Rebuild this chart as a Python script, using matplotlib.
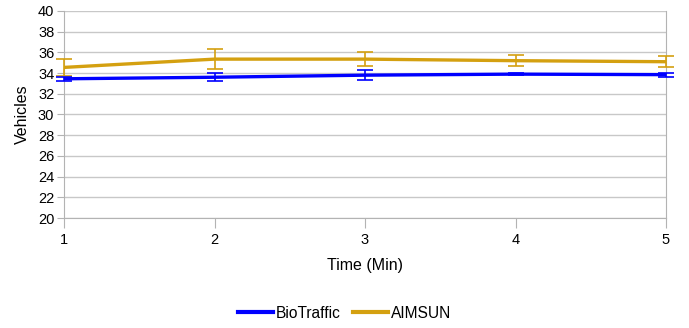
import matplotlib.pyplot as plt
from matplotlib.lines import Line2D
import numpy as np

plt.rcParams['font.family'] = ['Liberation Sans', 'DejaVu Sans']

minutes = [1, 2, 3, 4, 5]
bio = [33.45, 33.6, 33.8, 33.9, 33.85]
bio_err = [0.2, 0.4, 0.5, 0.12, 0.2]
aimsun = [34.55, 35.35, 35.35, 35.2, 35.1]
aimsun_err = [0.85, 1.0, 0.65, 0.55, 0.55]
names = ['BioTraffic', 'AIMSUN']
colors = ['#0000ff', '#d4a010']

fig = plt.figure(figsize=(6.89, 3.28), dpi=100)
ax = fig.add_axes([64/689, 1 - 218/328, (666-64)/689, (218-11)/328])

for vals, errs, c, z in [(bio, bio_err, colors[0], 4), (aimsun, aimsun_err, colors[1], 3)]:
    lines = ax.errorbar(minutes, vals, yerr=errs, color=c, lw=2.4, capsize=5.5,
                        elinewidth=1.2, capthick=1.2, zorder=z)
    for art in lines.lines[1]:
        art.set_clip_on(False)
    for art in lines.lines[2]:
        art.set_clip_on(False)

ax.set_xlim(1, 5)
ax.set_ylim(20, 40)
ax.set_xticks(minutes)
ax.set_yticks(np.arange(20, 41, 2))
ax.yaxis.grid(True, color='#c8c8c8', lw=1)
ax.set_axisbelow(True)
for s in ['left', 'bottom', 'right']:
    ax.spines[s].set_color('#b3b3b3')
ax.spines['top'].set_visible(False)
ax.tick_params(axis='both', colors='#b3b3b3', labelcolor='black', labelsize=10.5)
ax.tick_params(axis='y', length=5, pad=2)
ax.tick_params(axis='x', length=7, pad=4)

ax.set_xlabel('Time (Min)', fontsize=11.5, labelpad=8)
ax.set_ylabel('Vehicles', fontsize=11.5, labelpad=6)

handles = [Line2D([], [], color=c, lw=3) for c in colors]
fig.legend(handles, names, loc='center', bbox_to_anchor=(0.5, 1 - 313/328), ncol=2,
           frameon=False, fontsize=11.2, handlelength=2.25, columnspacing=0.8,
           handletextpad=0.2)

fig.savefig('out.png', dpi=100)
